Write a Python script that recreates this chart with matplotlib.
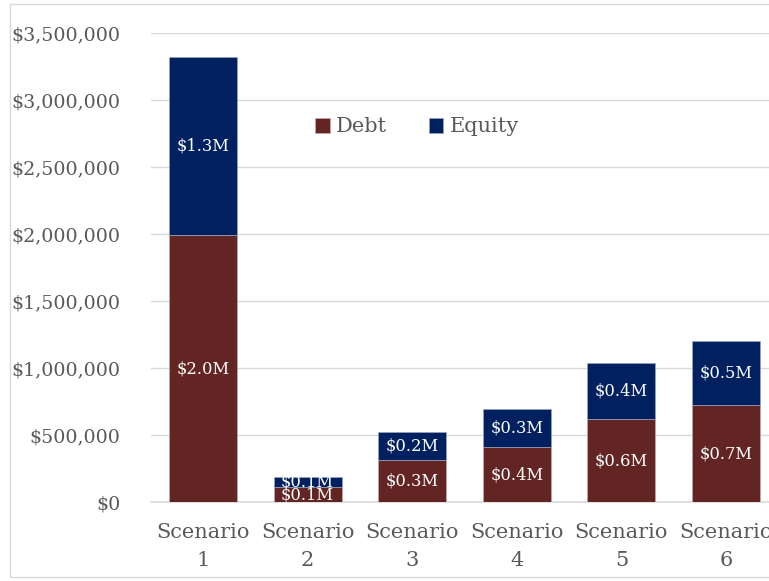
import matplotlib
matplotlib.use("Agg")
import matplotlib.pyplot as plt
from matplotlib.patches import Rectangle
from matplotlib.ticker import FuncFormatter

categories = ["Scenario\n1", "Scenario\n2", "Scenario\n3", "Scenario\n4", "Scenario\n5", "Scenario\n6"]
debt = [1990000, 112000, 315000, 414000, 618000, 723000]
equity = [1330000, 74000, 209000, 281000, 418000, 481000]
debt_labels = ["$2.0M", "$0.1M", "$0.3M", "$0.4M", "$0.6M", "$0.7M"]
equity_labels = ["$1.3M", "$0.1M", "$0.2M", "$0.3M", "$0.4M", "$0.5M"]
yticks = [0, 500000, 1000000, 1500000, 2000000, 2500000, 3000000, 3500000]

plt.rcParams['font.family'] = ['DejaVu Serif']
W, H = 769, 581
fig = plt.figure(figsize=(W / 100, H / 100), dpi=100)

# chart border
fig.patches.append(Rectangle((10 / W, 4 / H), 1.0, (577 - 4) / H, transform=fig.transFigure,
                             fill=False, edgecolor="#D9D9D9", linewidth=1.0))

ax = fig.add_axes([150.7 / W, (H - 502.3) / H, (778.3 - 150.7) / W, (502.3 - 33) / H])
ax.set_clip_on(False)

x = list(range(len(categories)))
debt_color = "#632523"
eq_color = "#002060"
ax.bar(x, debt, width=0.65, color=debt_color, edgecolor="#C9A9A8", linewidth=0.5, label="Debt", zorder=3)
ax.bar(x, equity, width=0.65, bottom=debt, color=eq_color, edgecolor="#9AA4BF", linewidth=0.5, label="Equity", zorder=3)

for i in x:
    ax.text(i, debt[i] / 2, debt_labels[i], ha="center", va="center", color="white", fontsize=11.8, zorder=4)
    ax.text(i, debt[i] + equity[i] / 2, equity_labels[i], ha="center", va="center", color="white", fontsize=11.8, zorder=4)

ax.set_xlim(-0.5, len(categories) - 0.5)
ax.set_ylim(0, 3500000)
ax.set_yticks(yticks)
ax.yaxis.set_major_formatter(FuncFormatter(lambda v, p: "${:,.0f}".format(v)))
ax.set_xticks(x)
ax.set_xticklabels(categories, linespacing=1.6)
ax.tick_params(axis="both", length=0, colors="#595959")
ax.tick_params(axis="y", pad=22, labelsize=13.7)
ax.tick_params(axis="x", pad=15, labelsize=15)
ax.grid(axis="y", color="#D9D9D9", linewidth=1.0, zorder=0)
for s in ["top", "right", "left"]:
    ax.spines[s].set_visible(False)
ax.spines["bottom"].set_color("#D9D9D9")
ax.spines["bottom"].set_linewidth(1.2)

leg = ax.legend(loc="center", bbox_to_anchor=(417 / W, (H - 127) / H), bbox_transform=fig.transFigure,
                ncol=2, frameon=False, fontsize=15, handlelength=0.7, handleheight=0.7,
                handletextpad=0.3, columnspacing=2.0)
for t in leg.get_texts():
    t.set_color("#595959")

fig.savefig("out.png", dpi=100)
